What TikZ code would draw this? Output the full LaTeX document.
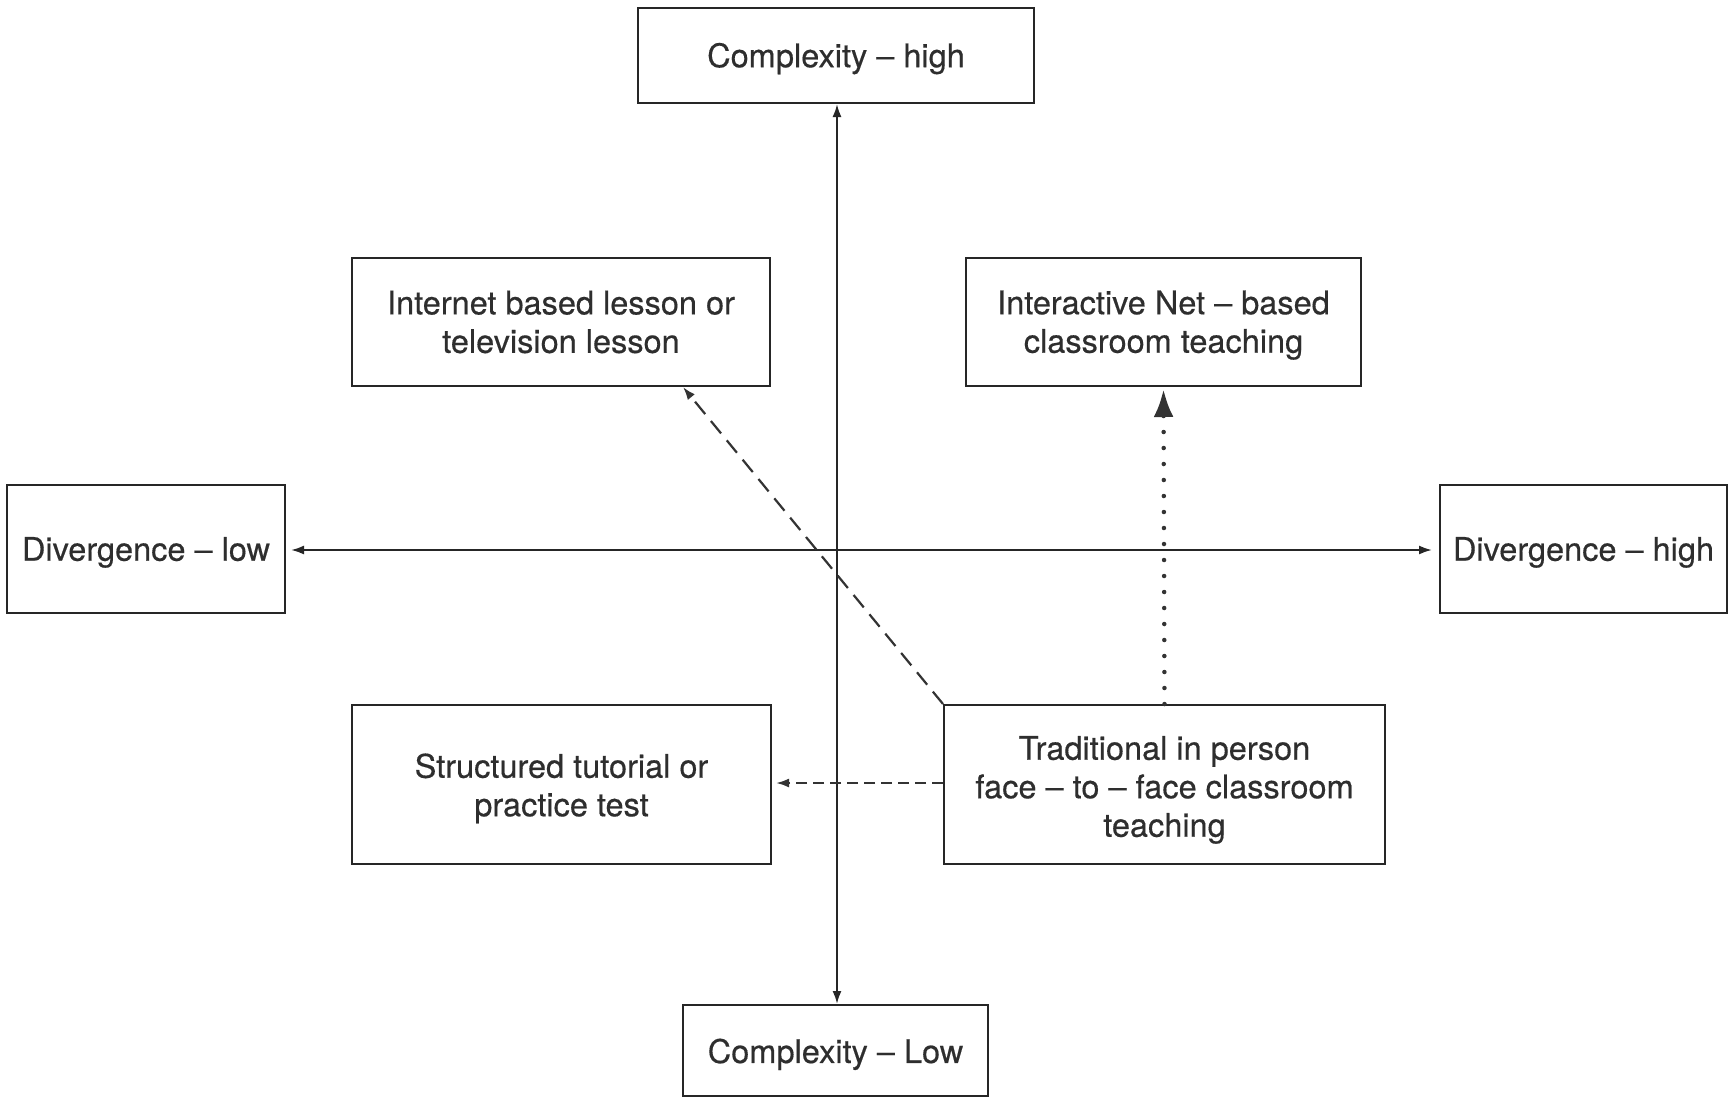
\documentclass[tikz,border=0pt]{standalone}
\usepackage{fontspec}
\setmainfont{TeX Gyre Heros}[FakeBold=0.4]
\usetikzlibrary{arrows.meta,calc}
\newcommand\mystrut[1]{\rule{0pt}{#1pt}}
\begin{document}
\begin{tikzpicture}[x=1pt,y=-1pt,
  box/.style={draw=black!85, line width=2pt, fill=white, inner sep=0pt, align=center,
    text=black!82, font=\fontsize{32.5}{38.5}\selectfont},
  smalltip/.style={-{Latex[length=13pt,width=9pt]}},
  axisline/.style={line width=2pt, draw=black!85},
  conn/.style={line width=2.2pt, draw=black!80}
]
\useasboundingbox[fill=white] (0,0) rectangle (1730,1098);

\node[box, minimum width=396pt, minimum height=95pt] (ch) at (836,55.5) {\mystrut{30.5}Complexity -- high};
\node[box, minimum width=305pt, minimum height=91pt] (cl) at (835.5,1050.5) {\mystrut{32}Complexity -- Low};
\node[box, minimum width=278pt, minimum height=128pt] (dl) at (146,549) {\mystrut{30.5}Divergence -- low};
\node[box, minimum width=287pt, minimum height=128pt] (dh) at (1583.5,549) {\mystrut{30.5}Divergence -- high};
\node[box, minimum width=418pt, minimum height=128pt] (ib) at (561,322) {Internet based lesson or\\television lesson};
\node[box, minimum width=395pt, minimum height=128pt] (in) at (1163.5,322) {\mystrut{30}Interactive Net -- based\\classroom teaching};
\node[box, minimum width=419pt, minimum height=159pt] (st) at (561.5,784.5) {\mystrut{32}Structured tutorial or\\practice test};
\node[box, minimum width=441pt, minimum height=159pt] (tr) at (1164.5,784.5) {\mystrut{34.5}Traditional in person\\face -- to -- face classroom\\teaching};

% axes
\draw[axisline, {Latex[length=13pt,width=9pt]}-{Latex[length=13pt,width=9pt]}]
  ([xshift=1pt]ch.south) -- ([xshift=1.5pt]cl.north);
\draw[axisline, {Latex[length=13pt,width=9pt]}-{Latex[length=13pt,width=9pt]}, shorten <=5pt, shorten >=7pt]
  ([yshift=-1pt]dl.east) -- ([yshift=-1pt]dh.west);

% connectors
\draw[conn, smalltip, dash pattern=on 16pt off 9pt]
  (tr.north west) -- ([xshift=122pt]ib.south);
\draw[conn, smalltip, dash pattern=on 11pt off 6pt, shorten >=4pt]
  ([yshift=1.5pt]tr.west) -- ([yshift=1.5pt]st.east);
\draw[line width=4.5pt, draw=black!80, dash pattern=on 0pt off 16pt, line cap=round,
  -{Latex[length=28pt,width=20pt]}, shorten >=2pt]
  (tr.north) -- (in.south);
\end{tikzpicture}
\end{document}
